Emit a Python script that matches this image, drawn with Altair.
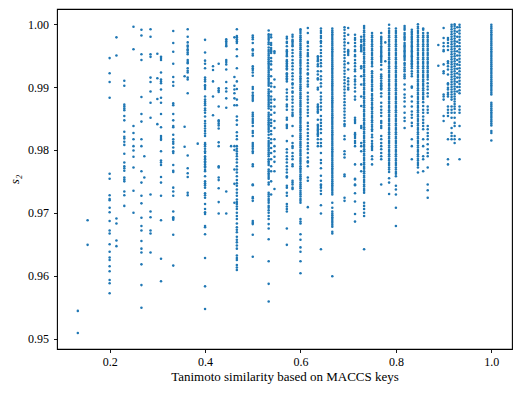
import altair as alt
import pandas as pd

# y values are in units of 1e-4 (e.g. 9544 -> 0.9544)
c0133 = [9544, 9509]
c0154 = [9688, 9649]
c0200 = [9946, 9922, 9908, 9883, 9762, 9754, 9728, 9722, 9720, 9708, 9701, 9687, 9672, 9667, 9650, 9638, 9629, 9625, 9615, 9607, 9593, 9588, 9572]
c0214 = [9979, 9950, 9691, 9683, 9656, 9647]
c0231 = [9910, 9902, 9872, 9869, 9866, 9863, 9854, 9847, 9829, 9821, 9818, 9813, 9808, 9794, 9780, 9774, 9771, 9767, 9756, 9753, 9750, 9734, 9728, 9711]
c0250 = [9996, 9960, 9838, 9827, 9817, 9806, 9799, 9789, 9772, 9735, 9700]
c0267 = [9991, 9982, 9952, 9943, 9884, 9857, 9845, 9817, 9806, 9766, 9748, 9727, 9715, 9692, 9679, 9672, 9655, 9643, 9637, 9618, 9585, 9549]
c0273 = [9790, 9756]
c0286 = [9992, 9980, 9952, 9948, 9915, 9908, 9893, 9875, 9851, 9729, 9702, 9693, 9672, 9667, 9637]
c0300 = [9953, 9914, 9881, 9841]
c0308 = [9948, 9946, 9943, 9923, 9912, 9909, 9906, 9896, 9883, 9875, 9857, 9836, 9822, 9819, 9816, 9798, 9783, 9780, 9776, 9757, 9748, 9727, 9688, 9627, 9591]
c0333 = [9989, 9970, 9956, 9937, 9916, 9908, 9902, 9874, 9871, 9857, 9847, 9838, 9836, 9824, 9817, 9813, 9810, 9804, 9798, 9795, 9776, 9767, 9765, 9740, 9734, 9727, 9702, 9693, 9691, 9689, 9665, 9616]
c0357 = [9917, 9837, 9805]
c0364 = [9992, 9980, 9971, 9966, 9964, 9960, 9958, 9955, 9952, 9943, 9940, 9938, 9930, 9926, 9923, 9915, 9912, 9890, 9791, 9771, 9763, 9757, 9732, 9728]
c0385 = [9810]
c0400 = [9975, 9955, 9942, 9937, 9930, 9915, 9912, 9909, 9903, 9900, 9897, 9885, 9880, 9877, 9874, 9871, 9866, 9863, 9859, 9853, 9846, 9842, 9838, 9834, 9830, 9826, 9822, 9811, 9809, 9806, 9802, 9798, 9795, 9790, 9787, 9785, 9782, 9780, 9777, 9774, 9772, 9768, 9766, 9758, 9750, 9747, 9744, 9740, 9731, 9728, 9724, 9714, 9706, 9701, 9698, 9679, 9677, 9666, 9628, 9583, 9547]
c0417 = [9933, 9927, 9909, 9885, 9855]
c0429 = [9937, 9898, 9895, 9892, 9869, 9847, 9845, 9842, 9839, 9834, 9812, 9806, 9774, 9772, 9756, 9752, 9739, 9717, 9699]
c0444 = [9976, 9973, 9970, 9967, 9965, 9943, 9940, 9936, 9928, 9908, 9898, 9893, 9882, 9867, 9734, 9699]
c0455 = [9806]
c0462 = [9979, 9916, 9902, 9896, 9890, 9882, 9871, 9806, 9800, 9769, 9746, 9716]
c0467 = [9992, 9981, 9979, 9976, 9973, 9970, 9960, 9949, 9930, 9909, 9897, 9880, 9871, 9853, 9847, 9840, 9828, 9822, 9817, 9806, 9802, 9798, 9794, 9790, 9785, 9780, 9774, 9769, 9764, 9758, 9752, 9747, 9743, 9737, 9732, 9727, 9721, 9717, 9714, 9710, 9706, 9700, 9695, 9690, 9683, 9677, 9673, 9669, 9662, 9657, 9653, 9648, 9643, 9632, 9628, 9625, 9617, 9613, 9609]
c0500 = [9982, 9979, 9976, 9970, 9960, 9958, 9953, 9950, 9933, 9930, 9927, 9923, 9918, 9900, 9897, 9891, 9887, 9884, 9881, 9878, 9859, 9856, 9853, 9849, 9846, 9843, 9838, 9830, 9827, 9822, 9811, 9808, 9805, 9802, 9798, 9795, 9777, 9774, 9745, 9744, 9725, 9723, 9719, 9687, 9684, 9682, 9665, 9630]
c0533 = [9990, 9984, 9981, 9978, 9975, 9971, 9968, 9963, 9959, 9956, 9953, 9950, 9947, 9944, 9941, 9938, 9935, 9932, 9929, 9926, 9923, 9920, 9917, 9914, 9911, 9908, 9905, 9902, 9896, 9893, 9890, 9887, 9884, 9881, 9878, 9875, 9872, 9869, 9866, 9859, 9856, 9853, 9850, 9847, 9844, 9841, 9838, 9835, 9832, 9829, 9824, 9819, 9814, 9811, 9808, 9805, 9802, 9799, 9796, 9793, 9790, 9785, 9782, 9779, 9776, 9769, 9766, 9763, 9760, 9757, 9754, 9748, 9745, 9732, 9729, 9726, 9722, 9719, 9716, 9711, 9708, 9704, 9700, 9695, 9690, 9682, 9675, 9658, 9623, 9587, 9559]
c0538 = [9983, 9979, 9970, 9967, 9962, 9959, 9957, 9954, 9946, 9941, 9936, 9928, 9917, 9906, 9901, 9893, 9885, 9880, 9875, 9869, 9864, 9856, 9848, 9843, 9838, 9830, 9825, 9817, 9811, 9803, 9795, 9785, 9774, 9766, 9750, 9729]
c0545 = [9957, 9954, 9912, 9900, 9880, 9869, 9859, 9846, 9835, 9817, 9806, 9798, 9789, 9781, 9766, 9738]
c0571 = [9980, 9977, 9972, 9970, 9965, 9959, 9957, 9954, 9951, 9949, 9943, 9941, 9938, 9935, 9933, 9930, 9928, 9922, 9920, 9917, 9914, 9912, 9909, 9896, 9891, 9885, 9880, 9872, 9869, 9864, 9851, 9848, 9840, 9838, 9835, 9814, 9801, 9796, 9790, 9785, 9780, 9774, 9769, 9764, 9758, 9756, 9743, 9740, 9732, 9727, 9714, 9710, 9706, 9702, 9675, 9649]
c0583 = [9983, 9980, 9975, 9973, 9970, 9967, 9965, 9959, 9954, 9949, 9943, 9938, 9933, 9928, 9922, 9917, 9912, 9906, 9904, 9899, 9893, 9891, 9885, 9880, 9875, 9869, 9864, 9859, 9856, 9854, 9838, 9822, 9811, 9806, 9803, 9795, 9790, 9785, 9777, 9774, 9751, 9748, 9745, 9740, 9738]
c0600 = [9992, 9989, 9986, 9982, 9979, 9976, 9973, 9969, 9966, 9963, 9960, 9956, 9953, 9950, 9947, 9943, 9940, 9937, 9934, 9930, 9927, 9924, 9921, 9917, 9914, 9911, 9908, 9904, 9901, 9898, 9895, 9891, 9888, 9885, 9882, 9878, 9875, 9872, 9869, 9865, 9862, 9859, 9856, 9852, 9849, 9846, 9843, 9839, 9836, 9833, 9830, 9826, 9823, 9820, 9817, 9813, 9810, 9807, 9804, 9800, 9797, 9794, 9791, 9787, 9784, 9781, 9778, 9774, 9771, 9768, 9765, 9761, 9758, 9755, 9752, 9748, 9745, 9742, 9739, 9735, 9732, 9729, 9726, 9722, 9719, 9716, 9690, 9686, 9683, 9666, 9657, 9645, 9638, 9623, 9604]
c0615 = [9994, 9986, 9972, 9970, 9965, 9959, 9954, 9951, 9949, 9943, 9938, 9933, 9928, 9922, 9920, 9914, 9909, 9904, 9901, 9891, 9885, 9880, 9875, 9869, 9864, 9859, 9854, 9843, 9838, 9833, 9827, 9822, 9817, 9811, 9806, 9801, 9795, 9788, 9782, 9780, 9774, 9756, 9751, 9709]
c0636 = [9949, 9946, 9943, 9941, 9936, 9933, 9925, 9920, 9914, 9912, 9899, 9896, 9872, 9869, 9867, 9864, 9861, 9859, 9848, 9840, 9838, 9835, 9832, 9830, 9827, 9825, 9822, 9817, 9811, 9806]
c0643 = [9993, 9989, 9986, 9981, 9978, 9973, 9970, 9965, 9959, 9954, 9949, 9943, 9938, 9933, 9925, 9917, 9912, 9906, 9901, 9891, 9885, 9880, 9875, 9869, 9864, 9854, 9848, 9843, 9838, 9833, 9827, 9817, 9811, 9806, 9795, 9784, 9779, 9771, 9759, 9751, 9745, 9743, 9740, 9735, 9730, 9712, 9699, 9642]
c0667 = [9993, 9990, 9987, 9984, 9981, 9978, 9975, 9972, 9969, 9966, 9963, 9960, 9957, 9954, 9951, 9948, 9945, 9942, 9939, 9936, 9933, 9930, 9927, 9924, 9921, 9918, 9915, 9912, 9909, 9906, 9903, 9900, 9897, 9894, 9891, 9888, 9885, 9882, 9879, 9876, 9873, 9870, 9867, 9864, 9861, 9858, 9855, 9852, 9849, 9846, 9843, 9840, 9837, 9834, 9831, 9828, 9825, 9822, 9819, 9816, 9813, 9810, 9807, 9804, 9801, 9798, 9795, 9792, 9789, 9786, 9783, 9780, 9777, 9774, 9771, 9768, 9765, 9762, 9759, 9756, 9753, 9750, 9747, 9744, 9741, 9738, 9735, 9732, 9729, 9716, 9708, 9702, 9699, 9696, 9693, 9690, 9687, 9684, 9681, 9678, 9670, 9667, 9599]
c0692 = [9995, 9991, 9986, 9981, 9976, 9971, 9966, 9961, 9956, 9951, 9946, 9941, 9936, 9931, 9926, 9921, 9916, 9911, 9906, 9901, 9896, 9891, 9886, 9881, 9876, 9871, 9866, 9861, 9856, 9851, 9846, 9841, 9838, 9822, 9817, 9798, 9793, 9788, 9761, 9758, 9724, 9719]
c0700 = [9994, 9983, 9970, 9959, 9957, 9954, 9951, 9938, 9928, 9914, 9909, 9904, 9899, 9896]
c0714 = [9983, 9978, 9975, 9970, 9965, 9959, 9957, 9951, 9949, 9943, 9938, 9933, 9928, 9925, 9917, 9912, 9909, 9904, 9899, 9893, 9885, 9880, 9851, 9848, 9846, 9843, 9827, 9825, 9822, 9819, 9814, 9811, 9806, 9777, 9754, 9753, 9745, 9744, 9731, 9718, 9698, 9686]
c0727 = [9980, 9975, 9972, 9967, 9965, 9962, 9959, 9957, 9933, 9930, 9917, 9904, 9885, 9870, 9838, 9835, 9811, 9806, 9798, 9777, 9766]
c0733 = [9997, 9994, 9990, 9987, 9983, 9980, 9976, 9973, 9969, 9966, 9962, 9959, 9955, 9952, 9948, 9945, 9941, 9938, 9934, 9931, 9927, 9924, 9920, 9917, 9913, 9910, 9906, 9903, 9899, 9896, 9892, 9889, 9885, 9882, 9878, 9875, 9871, 9868, 9864, 9861, 9857, 9854, 9850, 9847, 9843, 9840, 9836, 9833, 9829, 9826, 9822, 9819, 9815, 9812, 9808, 9805, 9801, 9798, 9794, 9791, 9787, 9784, 9780, 9777, 9773, 9770, 9766, 9763, 9759, 9756, 9752, 9749, 9745, 9742, 9738, 9735, 9732, 9716, 9711, 9706, 9700, 9695, 9642]
c0750 = [9986, 9982, 9979, 9975, 9972, 9968, 9965, 9961, 9958, 9954, 9951, 9947, 9944, 9940, 9937, 9933, 9925, 9922, 9918, 9915, 9911, 9908, 9904, 9901, 9897, 9894, 9889, 9886, 9882, 9879, 9875, 9872, 9868, 9865, 9861, 9858, 9854, 9851, 9847, 9844, 9840, 9837, 9833, 9830, 9824, 9820, 9814, 9810, 9806, 9803, 9800, 9790, 9785, 9777]
c0769 = [9986, 9980, 9978, 9975, 9972, 9969, 9965, 9962, 9959, 9956, 9954, 9951, 9949, 9946, 9943, 9940, 9935, 9928, 9920, 9917, 9914, 9910, 9906, 9903, 9901, 9898, 9896, 9890, 9885, 9875, 9869, 9864, 9859, 9854, 9846, 9843, 9838, 9835, 9822, 9817, 9811, 9806, 9801, 9795, 9790, 9785, 9745]
c0778 = [9971, 9941]
c0786 = [9999, 9993, 9989, 9986, 9982, 9979, 9975, 9972, 9968, 9965, 9961, 9958, 9954, 9951, 9947, 9944, 9940, 9937, 9933, 9930, 9926, 9923, 9919, 9916, 9912, 9909, 9905, 9902, 9898, 9895, 9891, 9888, 9884, 9881, 9877, 9874, 9870, 9867, 9863, 9860, 9856, 9853, 9849, 9846, 9842, 9839, 9835, 9832, 9828, 9825, 9821, 9818, 9814, 9811, 9807, 9804, 9800, 9797, 9793, 9790, 9786, 9783, 9779, 9776, 9772, 9769, 9765, 9755, 9748, 9730]
c0800 = [9993, 9989, 9986, 9982, 9979, 9975, 9972, 9968, 9965, 9961, 9958, 9954, 9951, 9947, 9944, 9940, 9937, 9933, 9930, 9926, 9923, 9919, 9916, 9912, 9909, 9905, 9902, 9898, 9895, 9891, 9888, 9884, 9881, 9877, 9874, 9870, 9867, 9863, 9860, 9856, 9853, 9849, 9846, 9842, 9839, 9835, 9832, 9828, 9825, 9821, 9818, 9814, 9811, 9807, 9804, 9800, 9797, 9793, 9790, 9786, 9783, 9779, 9776, 9772, 9769, 9765, 9762, 9758, 9743, 9737, 9729, 9708, 9679]
c0818 = [9997, 9994, 9991, 9986, 9983, 9980, 9978, 9975, 9970, 9967, 9965, 9962, 9959, 9957, 9954, 9951, 9949, 9946, 9943, 9938, 9935, 9931, 9928, 9925, 9920, 9917, 9914, 9904, 9896, 9888, 9883, 9877, 9869, 9859, 9851, 9846, 9835]
c0833 = [9991, 9988, 9986, 9983, 9980, 9978, 9975, 9972, 9970, 9967, 9965, 9962, 9959, 9957, 9954, 9951, 9949, 9946, 9943, 9941, 9938, 9936, 9933, 9930, 9925, 9921, 9917, 9901, 9899, 9885, 9877, 9869, 9861, 9856, 9851, 9843, 9838, 9817, 9806, 9785]
c0846 = [10000, 9996, 9993, 9989, 9986, 9982, 9979, 9975, 9972, 9968, 9965, 9961, 9958, 9954, 9951, 9947, 9944, 9940, 9937, 9933, 9930, 9926, 9923, 9919, 9916, 9912, 9909, 9905, 9902, 9898, 9895, 9891, 9888, 9884, 9881, 9877, 9874, 9870, 9867, 9863, 9860, 9856, 9853, 9849, 9846, 9842, 9839, 9835, 9832, 9828, 9825, 9821, 9818, 9814, 9811, 9807, 9804, 9800, 9797, 9793, 9790, 9786, 9783, 9779, 9776, 9772, 9764]
c0857 = [9993, 9991, 9986, 9982, 9979, 9975, 9972, 9968, 9965, 9961, 9958, 9954, 9951, 9947, 9944, 9940, 9937, 9933, 9930, 9926, 9923, 9919, 9916, 9912, 9909, 9905, 9902, 9898, 9895, 9891, 9888, 9884, 9881, 9876, 9870, 9864, 9859, 9853, 9848, 9843, 9838, 9833, 9817, 9806, 9790, 9785, 9766]
c0867 = [9986, 9982, 9979, 9975, 9972, 9968, 9965, 9961, 9958, 9954, 9951, 9947, 9944, 9940, 9937, 9933, 9930, 9926, 9923, 9919, 9916, 9912, 9906, 9901, 9896, 9890, 9885, 9869, 9864, 9859, 9838, 9833, 9827, 9822, 9817, 9809, 9801, 9795, 9790, 9772, 9745, 9736, 9724]
c0889 = [9967, 9934]
c0900 = [9994, 9978, 9970, 9965, 9959, 9957, 9936, 9925, 9922, 9888, 9885, 9880, 9854, 9846]
c0909 = [9978, 9975, 9970, 9965, 9959, 9941, 9938, 9933, 9928, 9920, 9906, 9904, 9899, 9896, 9891, 9888, 9885, 9869, 9864, 9859, 9854, 9817, 9785, 9777]
c0917 = [9999, 9996, 9992, 9988, 9984, 9980, 9976, 9972, 9968, 9964, 9960, 9956, 9952, 9948, 9944, 9940, 9936, 9932, 9928, 9924, 9920, 9916, 9912, 9908, 9904, 9900, 9896, 9892, 9888, 9884, 9880, 9869, 9864, 9859, 9851, 9835, 9827, 9822, 9817]
c0923 = [10000, 9997, 9993, 9989, 9985, 9981, 9977, 9973, 9969, 9965, 9961, 9957, 9953, 9949, 9945, 9941, 9937, 9933, 9929, 9925, 9921, 9917, 9913, 9909, 9905, 9901, 9897, 9893, 9889, 9885, 9881, 9877, 9873, 9869, 9865, 9859, 9851, 9843, 9838, 9822, 9817, 9811]
c0929 = [9995, 9988, 9980, 9972, 9965, 9957, 9950, 9943, 9936, 9929, 9922, 9915, 9908, 9900, 9893]
c0933 = [9999, 9995, 9990, 9985, 9980, 9975, 9970, 9965, 9960, 9955, 9950, 9945, 9940, 9935, 9930, 9925, 9920, 9915, 9910, 9905, 9900, 9895, 9890, 9869, 9864, 9859, 9838, 9817, 9785]
c1000 = [9999, 9996, 9993, 9990, 9987, 9984, 9981, 9978, 9975, 9972, 9969, 9966, 9963, 9960, 9957, 9954, 9951, 9948, 9945, 9942, 9939, 9936, 9933, 9930, 9927, 9924, 9921, 9918, 9915, 9912, 9909, 9906, 9903, 9900, 9897, 9894, 9891, 9888, 9875, 9872, 9869, 9866, 9863, 9860, 9857, 9854, 9851, 9848, 9845, 9842, 9839, 9830, 9827, 9815]

columns = [
    (2/15, c0133), (2/13, c0154), (0.2, c0200), (3/14, c0214), (3/13, c0231),
    (0.25, c0250), (4/15, c0267), (3/11, c0273), (2/7, c0286), (0.3, c0300),
    (4/13, c0308), (1/3, c0333), (5/14, c0357), (4/11, c0364), (5/13, c0385),
    (0.4, c0400), (5/12, c0417), (3/7, c0429), (4/9, c0444), (5/11, c0455),
    (6/13, c0462), (7/15, c0467), (0.5, c0500), (8/15, c0533), (7/13, c0538),
    (6/11, c0545), (4/7, c0571), (7/12, c0583), (0.6, c0600), (8/13, c0615),
    (7/11, c0636), (9/14, c0643), (2/3, c0667), (9/13, c0692), (0.7, c0700),
    (5/7, c0714), (8/11, c0727), (11/15, c0733), (0.75, c0750), (10/13, c0769),
    (7/9, c0778), (11/14, c0786), (0.8, c0800), (9/11, c0818), (5/6, c0833),
    (11/13, c0846), (6/7, c0857), (13/15, c0867), (8/9, c0889), (0.9, c0900),
    (10/11, c0909), (11/12, c0917), (12/13, c0923), (13/14, c0929), (14/15, c0933),
    (1.0, c1000),
]

rows = [{"x": x, "y": v / 10000} for x, vals in columns for v in vals]
df = pd.DataFrame(rows)

x_ticks = [0.2, 0.4, 0.6, 0.8, 1.0]
y_ticks = [0.95, 0.96, 0.97, 0.98, 0.99, 1.00]

chart = alt.Chart(df).mark_circle(size=6.5, opacity=1, color="#1f77b4").encode(
    x=alt.X("x:Q",
            scale=alt.Scale(domain=[0.0897, 1.0433], nice=False, zero=False),
            axis=alt.Axis(values=x_ticks, format=".1f",
                          title="Tanimoto similarity based on MACCS keys",
                          labelPadding=4, titlePadding=3)),
    y=alt.Y("y:Q",
            scale=alt.Scale(domain=[0.94834, 1.00241], nice=False, zero=False),
            axis=alt.Axis(values=y_ticks, format=".2f", title="s₂",
                          titleFontStyle="italic", labelPadding=5, titlePadding=6)),
).properties(
    width=455, height=340,
    padding={"left": 49, "top": 1, "right": 2, "bottom": 40},
    autosize=alt.AutoSizeParams(type="none"),
).configure_view(
    stroke="black", strokeWidth=1.1
).configure_axis(
    grid=False, domain=False, tickColor="black", tickSize=3.5, tickWidth=0.9,
    labelFont="Liberation Serif", labelFontSize=12, labelColor="black",
    titleFont="Liberation Serif", titleFontSize=13, titleFontWeight="normal",
    titleColor="black",
)

chart.save("out.html", embed_options={"renderer": "svg", "actions": False})
